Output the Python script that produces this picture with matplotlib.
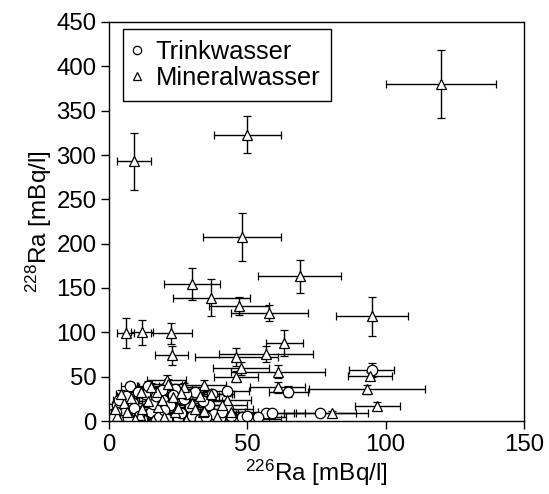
import matplotlib
matplotlib.use("Agg")
import matplotlib.pyplot as plt
from matplotlib.lines import Line2D

plt.rcParams['font.family'] = ['Liberation Sans', 'DejaVu Sans']
plt.rcParams['mathtext.fontset'] = 'custom'
plt.rcParams['mathtext.rm'] = 'Liberation Sans'
plt.rcParams['mathtext.it'] = 'Liberation Sans:italic'

# Trinkwasser: Ra-226, Ra-228 and their uncertainties [mBq/l]
tw_ra226 = [94.9, 64.8, 76.3, 56.7, 58.8, 42.5, 37.4, 0.4, 0.4, 4.0, 8.8, 14.8, 19.6, 10.0,
            29.3, 2.0, 5.0, 7.0, 12.0, 15.0, 18.0, 22.0, 25.0, 27.0, 30.0, 33.0, 36.0, 40.0,
            45.0, 48.0, 52.0, 3.0, 9.0, 13.0, 24.0, 16.0, 20.0, 38.0, 43.0, 31.0, 6.0,
            1.0, 2.5, 1.5, 3.5, 11.0, 17.0, 21.0, 26.0, 28.0, 34.0, 35.0, 41.0, 44.0, 50.0,
            54.0, 7.5, 10.5, 14.0, 19.0, 23.0]
tw_ra228 = [57.5, 33.0, 9.4, 9.4, 8.6, 33.8, 30.4, 13.5, 1.0, 2.0, 20.0, 27.4, 23.7, 8.6,
            16.0, 5.0, 12.0, 3.0, 2.0, 10.0, 4.0, 18.0, 3.0, 25.0, 6.0, 2.0, 18.0, 3.0,
            2.0, 4.0, 2.0, 18.0, 15.0, 31.0, 36.0, 19.0, 12.0, 8.0, 14.0, 33.0, 28.0,
            8.0, 10.0, 3.0, 24.0, 6.0, 28.0, 2.0, 9.0, 31.0, 22.0, 5.0, 10.0, 6.0, 6.0,
            4.0, 39.0, 33.0, 40.0, 35.0, 29.0]
tw_err226 = [8, 7, 13, 10, 12, 8, 7, 1, 1, 2, 3, 4, 5, 3,
             6, 1, 2, 2, 3, 4, 4, 5, 5, 6, 6, 7, 7, 8,
             9, 10, 10, 2, 3, 4, 6, 4, 5, 8, 9, 6, 3,
             1, 2, 1, 2, 3, 4, 5, 6, 6, 7, 7, 8, 9, 10,
             10, 3, 3, 4, 5, 5]
tw_err228 = [8, 6, 3, 3, 3, 5, 5, 3, 2, 2, 4, 4, 4, 3,
             4, 2, 3, 2, 2, 3, 2, 4, 2, 4, 2, 2, 4, 2,
             2, 2, 2, 3, 3, 5, 5, 4, 3, 3, 3, 5, 5,
             2, 3, 2, 4, 2, 4, 2, 3, 5, 4, 2, 3, 2, 2,
             2, 5, 5, 5, 5, 4]

# Mineralwasser: Ra-226, Ra-228 and their uncertainties [mBq/l]
mw_ra226 = [120.0, 9.0, 50.0, 48.0, 69.0, 30.0, 37.0, 47.0, 58.0, 95.0, 6.0, 12.0, 22.5,
            22.6, 46.0, 56.6, 63.4, 47.7, 46.0, 61.0, 61.0, 94.3, 93.3, 97.0, 80.7,
            20.8, 34.3, 11.4, 17.2, 23.3, 5.4, 32.9, 17.8, 6.4, 16.0, 23.9, 28.0, 34.0,
            11.2, 42.5, 39.0, 34.3, 27.0, 14.0, 3.0, 8.0, 20.0, 30.0, 25.0, 44.0, 12.0,
            2.0, 9.5, 15.0, 19.0, 26.0, 31.0, 37.0, 41.0, 21.5, 4.5]
mw_ra228 = [380.0, 293.0, 323.0, 208.0, 163.0, 155.0, 139.0, 130.0, 122.0, 118.0, 99.0, 100.0, 99.0,
            74.0, 72.5, 76.0, 88.0, 59.4, 50.0, 55.6, 38.0, 50.7, 35.6, 17.3, 8.6,
            46.0, 40.6, 33.0, 32.4, 27.4, 20.6, 28.2, 16.0, 10.5, 1.0, 10.5, 1.0, 10.5,
            6.8, 23.7, 5.0, 11.0, 38.0, 22.0, 6.0, 26.0, 5.0, 20.0, 15.0, 10.0, 14.0,
            14.0, 2.0, 38.0, 24.0, 32.0, 14.0, 30.0, 18.0, 42.0, 30.0]
mw_err226 = [20, 6, 12, 14, 15, 10, 14, 11, 14, 13, 3, 4, 7.5,
             6, 15, 17, 6.6, 10, 8, 17, 10, 8, 21, 8, 13,
             7, 8, 5, 5, 6, 3, 7, 5, 3, 4, 6, 6, 7,
             4, 9, 9, 8, 7, 4, 2, 3, 5, 6, 6, 10, 4,
             2, 3, 4, 5, 6, 7, 8, 9, 6, 2]
mw_err228 = [38, 32, 21, 27, 19, 18, 21, 10, 9, 22, 17, 14, 12,
             11, 10, 9, 15, 7, 6, 7, 6, 5, 5, 4, 3,
             6, 6, 5, 5, 5, 4, 5, 4, 3, 2, 3, 2, 3,
             3, 4, 3, 3, 5, 4, 3, 4, 3, 4, 4, 3, 3,
             3, 2, 5, 4, 5, 3, 5, 4, 5, 5]

x_ticks = [0, 50, 100, 150]
y_ticks = [0, 50, 100, 150, 200, 250, 300, 350, 400, 450]

fig = plt.figure(figsize=(5.49, 4.94), dpi=100)
ax = fig.add_axes([109 / 549, 1 - 421 / 494, (524 - 109) / 549, (421 - 22) / 494])

err_style = dict(ecolor='black', elinewidth=1.0, capsize=3, capthick=1.0,
                 linestyle='none', markerfacecolor='white', markeredgecolor='black',
                 markeredgewidth=0.9, markersize=7.5)

ax.errorbar(tw_ra226, tw_ra228, xerr=tw_err226, yerr=tw_err228, marker='o',
            label='Trinkwasser', **err_style)
ax.errorbar(mw_ra226, mw_ra228, xerr=mw_err226, yerr=mw_err228, marker='^',
            label='Mineralwasser', **err_style)

ax.set_xlim(0, 150)
ax.set_ylim(0, 450)
ax.set_xticks(x_ticks)
ax.set_yticks(y_ticks)
ax.tick_params(direction='out', length=6, width=1, labelsize=17.3, pad=3)
for s in ax.spines.values():
    s.set_linewidth(1.0)

ax.set_xlabel(r'$^{226}$Ra [mBq/l]', fontsize=17.5, labelpad=2)
ax.set_ylabel(r'$^{228}$Ra [mBq/l]', fontsize=17.5, labelpad=2)

# Legend entries show only the markers, without error bars
handles = [Line2D([], [], marker='o', linestyle='none', markerfacecolor='white',
                  markeredgecolor='black', markeredgewidth=0.9, markersize=6),
           Line2D([], [], marker='^', linestyle='none', markerfacecolor='white',
                  markeredgecolor='black', markeredgewidth=0.9, markersize=6)]
leg = ax.legend(handles, ['Trinkwasser', 'Mineralwasser'], loc='upper left',
                bbox_to_anchor=(0.034, 0.982), fontsize=18.4, frameon=True, fancybox=False,
                edgecolor='black', framealpha=1, handlelength=0.25, handletextpad=0.6,
                borderpad=0.42, labelspacing=0.08, borderaxespad=0)
leg.get_frame().set_linewidth(1.0)

fig.savefig('out.png', dpi=100)
